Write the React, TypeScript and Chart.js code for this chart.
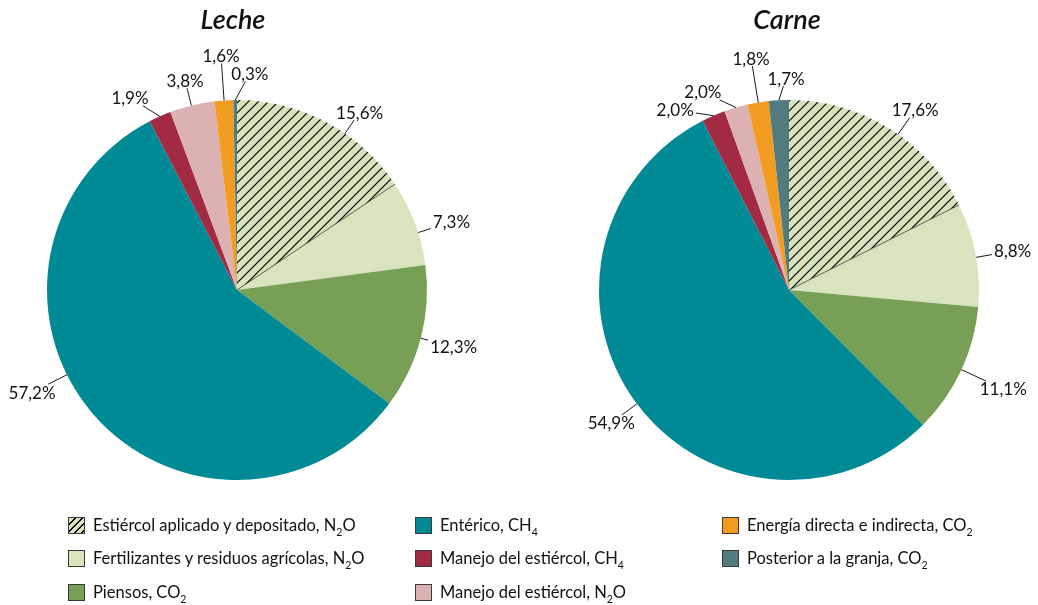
import React, { useEffect, useRef } from "react";
import { Chart, registerables } from "chart.js";

Chart.register(...registerables);

// ---------- DATA ----------
const categories = [
  "Estiércol aplicado y depositado, N2O",
  "Fertilizantes y residuos agrícolas, N2O",
  "Piensos, CO2",
  "Entérico, CH4",
  "Manejo del estiércol, CH4",
  "Manejo del estiércol, N2O",
  "Energía directa e indirecta, CO2",
  "Posterior a la granja, CO2",
];
const lecheValues = [15.6, 7.3, 12.3, 57.2, 1.9, 3.8, 1.6, 0.3];
const carneValues = [17.6, 8.8, 11.1, 54.9, 2.0, 2.0, 1.8, 1.7];
const chartTitles = ["Leche", "Carne"];

// ---------- STYLE / LAYOUT ----------
const HATCH_BG = "#d6e3bc";
const colors = [
  "HATCH",
  "#d7e4be",
  "#789f56",
  "#008a96",
  "#a22a42",
  "#dcb1b1",
  "#f29d22",
  "#527b80",
];
// label text centre: [angle in degrees clockwise from top, distance beyond radius]
const lecheLabelPos: [number, number][] = [
  [34.6, 26], [72.4, 35], [104.7, 34], [243.5, 39],
  [330.9, 30], [346.1, 26], [356.1, 45], [3.4, 27],
];
const carneLabelPos: [number, number][] = [
  [35, 30], [80.1, 37], [114.8, 46], [233.2, 32],
  [327.7, 23], [336.5, 26], [350.7, 45], [359.2, 22],
];

const FONT = "Lato, 'Open Sans', sans-serif";
const TEXT_COLOR = "#111";

function fmt(v: number) {
  return v.toFixed(1).replace(".", ",") + "%";
}

function makeHatch(): CanvasPattern | string {
  const c = document.createElement("canvas");
  c.width = 10;
  c.height = 10;
  const g = c.getContext("2d");
  if (!g) return HATCH_BG;
  g.fillStyle = HATCH_BG;
  g.fillRect(0, 0, 10, 10);
  g.strokeStyle = "#000";
  g.lineWidth = 1.2;
  g.beginPath();
  g.moveTo(-1, 11);
  g.lineTo(11, -1);
  g.moveTo(-6, 6);
  g.lineTo(6, -6);
  g.moveTo(4, 16);
  g.lineTo(16, 4);
  g.stroke();
  const p = g.createPattern(c, "repeat");
  return p || HATCH_BG;
}

const labelPlugin = {
  id: "pieLabels",
  afterDatasetsDraw(chart: any) {
    const ctx: CanvasRenderingContext2D = chart.ctx;
    const meta = chart.getDatasetMeta(0);
    const pos: [number, number][] = chart.options.plugins.pieLabels.pos;
    const values: number[] = chart.data.datasets[0].data;
    ctx.save();
    // thin dark edge closing the hatched slice
    const h = meta.data[0].getProps(["x", "y", "endAngle", "outerRadius"], true);
    ctx.strokeStyle = "rgba(0,0,0,0.75)";
    ctx.lineWidth = 0.8;
    ctx.beginPath();
    ctx.moveTo(h.x, h.y);
    ctx.lineTo(h.x + Math.cos(h.endAngle) * h.outerRadius, h.y + Math.sin(h.endAngle) * h.outerRadius);
    ctx.stroke();

    ctx.font = `17px ${FONT}`;
    ctx.textAlign = "center";
    ctx.textBaseline = "middle";
    ctx.strokeStyle = "#1a1a1a";
    ctx.lineWidth = 1;
    meta.data.forEach((arc: any, i: number) => {
      const p = arc.getProps(["x", "y", "startAngle", "endAngle", "outerRadius"], true);
      const [deg, extra] = pos[i];
      const a = (deg * Math.PI) / 180 - Math.PI / 2;
      let la = a;
      while (la < p.startAngle) la += Math.PI * 2;
      while (la > p.startAngle + Math.PI * 2) la -= Math.PI * 2;
      const margin = Math.min(0.02, (p.endAngle - p.startAngle) / 2);
      if (la > p.endAngle - margin || la < p.startAngle + margin) {
        la = (p.startAngle + p.endAngle) / 2;
      }
      const px = p.x + Math.cos(la) * p.outerRadius;
      const py = p.y + Math.sin(la) * p.outerRadius;
      const cx = p.x + Math.cos(a) * (p.outerRadius + extra);
      const cy = p.y + Math.sin(a) * (p.outerRadius + extra);
      const text = fmt(values[i]);
      const w = ctx.measureText(text).width;
      const hw = w / 2 + 2;
      const hh = 8;
      const dx = px - cx;
      const dy = py - cy;
      const t = Math.min(
        dx !== 0 ? hw / Math.abs(dx) : Infinity,
        dy !== 0 ? hh / Math.abs(dy) : Infinity
      );
      if (t < 1) {
        ctx.beginPath();
        ctx.moveTo(px, py);
        ctx.lineTo(cx + dx * t, cy + dy * t);
        ctx.stroke();
      }
      ctx.fillStyle = TEXT_COLOR;
      ctx.fillText(text, cx, cy + 1);
    });
    ctx.restore();
  },
};

function PieCanvas(props: {
  values: number[];
  pos: [number, number][];
  left: number;
  width: number;
  padLeft: number;
}) {
  const ref = useRef<HTMLCanvasElement | null>(null);
  useEffect(() => {
    if (!ref.current) return;
    const hatch = makeHatch();
    const bg = colors.map((c) => (c === "HATCH" ? hatch : c));
    const chart = new Chart(ref.current, {
      type: "pie",
      data: {
        labels: categories,
        datasets: [
          {
            data: props.values,
            backgroundColor: bg as any,
            borderWidth: 0,
          },
        ],
      },
      options: {
        animation: false,
        responsive: false,
        devicePixelRatio: 1,
        layout: {
          padding: {
            left: props.padLeft,
            right: props.width - 380 - props.padLeft,
            top: 100,
            bottom: 100,
          },
        },
        plugins: {
          legend: { display: false },
          tooltip: { enabled: false },
          title: { display: false },
          pieLabels: { pos: props.pos },
        } as any,
      },
      plugins: [labelPlugin],
    });
    return () => chart.destroy();
  }, []);
  return (
    <canvas
      ref={ref}
      width={props.width}
      height={580}
      style={{ position: "absolute", left: props.left, top: 0, width: props.width, height: 580 }}
    />
  );
}

function LegendLabel({ text }: { text: string }) {
  const m = text.match(/^(.*?)(N2O|CO2|CH4)$/);
  if (!m) return <span>{text}</span>;
  const chem = m[2];
  const parts =
    chem === "N2O" ? ["N", "2", "O"] : chem === "CO2" ? ["CO", "2", ""] : ["CH", "4", ""];
  return (
    <span>
      {m[1]}
      {parts[0]}
      <span style={{ fontSize: 10.5, position: "relative", top: 5 }}>{parts[1]}</span>
      {parts[2]}
    </span>
  );
}

const legendCols = [
  { x: 68, items: [0, 1, 2] },
  { x: 415, items: [3, 4, 5] },
  { x: 722, items: [6, 7] },
];
const legendRowY = [515, 548, 582];

export default function App() {
  useEffect(() => {
    document.body.style.margin = "0";
  }, []);
  return (
    <div
      style={{
        position: "relative",
        width: 1038,
        height: 605,
        overflow: "hidden",
        background: "#fff",
        fontFamily: FONT,
        color: TEXT_COLOR,
      }}
    >
      <PieCanvas values={lecheValues} pos={lecheLabelPos} left={0} width={530} padLeft={47} />
      <PieCanvas values={carneValues} pos={carneLabelPos} left={540} width={498} padLeft={59} />
      {chartTitles.map((t, i) => (
        <div
          key={t}
          style={{
            position: "absolute",
            left: i === 0 ? 133 : 687,
            width: 200,
            top: 2,
            textAlign: "center",
            fontSize: 27,
            fontStyle: "italic",
            fontWeight: 600,
          }}
        >
          {t}
        </div>
      ))}
      {legendCols.map((col) =>
        col.items.map((idx, r) => (
          <div
            key={idx}
            style={{
              position: "absolute",
              left: col.x,
              top: legendRowY[r],
              height: 20,
              display: "flex",
              alignItems: "center",
              fontSize: 16.5,
              whiteSpace: "nowrap",
            }}
          >
            <div
              style={{
                width: 17,
                height: 17,
                boxSizing: "border-box",
                border: "1px solid #3a3a3a",
                marginRight: 8,
                background:
                  colors[idx] === "HATCH"
                    ? `repeating-linear-gradient(135deg, ${HATCH_BG} 0px, ${HATCH_BG} 4px, #000 4px, #000 5px)`
                    : colors[idx],
              }}
            />
            <LegendLabel text={categories[idx]} />
          </div>
        ))
      )}
    </div>
  );
}
